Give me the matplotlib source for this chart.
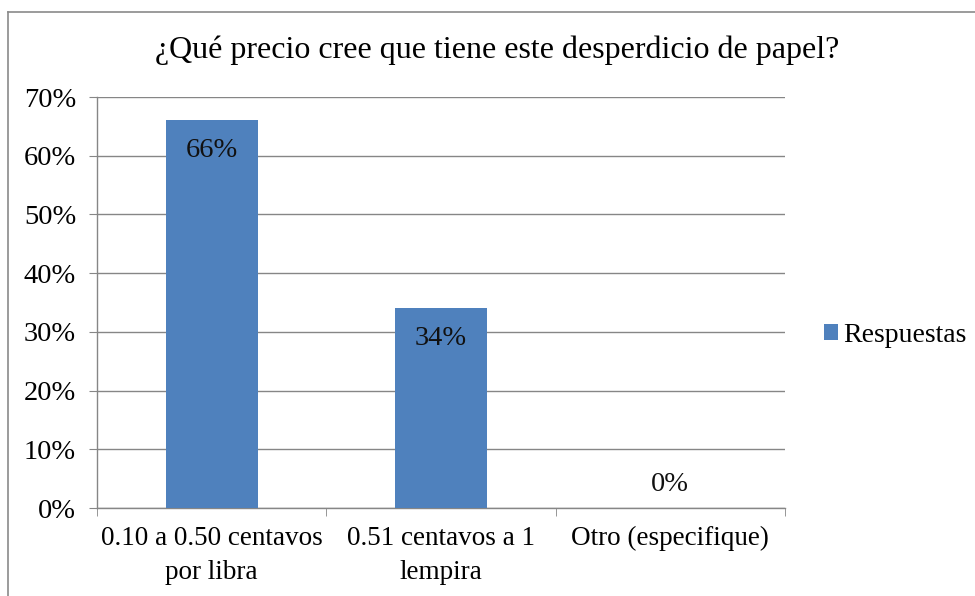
import matplotlib
matplotlib.use("Agg")
import matplotlib.pyplot as plt
from matplotlib.lines import Line2D
from matplotlib.patches import Patch

categories = ["0.10 a 0.50 centavos\npor libra", "0.51 centavos a 1\nlempira", "Otro (especifique)"]
values = [0.66, 0.34, 0.0]
value_labels = ["66%", "34%", "0%"]
yticks = [0, 0.1, 0.2, 0.3, 0.4, 0.5, 0.6, 0.7]
ytick_labels = ["0%", "10%", "20%", "30%", "40%", "50%", "60%", "70%"]
title = "¿Qué precio cree que tiene este desperdicio de papel?"
series_name = "Respuestas"

plt.rcParams['font.family'] = ['Liberation Serif', 'DejaVu Serif']
bar_color = "#4F81BD"
grid_color = "#868686"

fig = plt.figure(figsize=(9.75, 5.96), dpi=100)
ax = fig.add_axes([97/975, 1-508/596, (785-97)/975, (508-97)/596])

x = list(range(len(categories)))
ax.bar(x, values, width=0.4, color=bar_color, zorder=3)
ax.set_xlim(-0.5, len(categories) - 0.5)
ax.set_ylim(0, 0.7)
ax.set_yticks(yticks)
ax.set_yticklabels(ytick_labels, fontsize=20.5)
ax.set_xticks(x)
ax.set_xticklabels(categories, fontsize=19.5, linespacing=1.45)
ax.tick_params(axis='x', length=0, pad=13)
ax.set_xticks([i - 0.5 for i in range(len(categories) + 1)], minor=True)
ax.tick_params(axis='x', which='minor', length=6, color=grid_color, direction='out')
ax.tick_params(axis='y', length=6, color=grid_color, direction='out', pad=9)
ax.yaxis.grid(True, color=grid_color, linewidth=1, zorder=0)
for s in ['top', 'right']:
    ax.spines[s].set_visible(False)
for s in ['left', 'bottom']:
    ax.spines[s].set_color(grid_color)
    ax.spines[s].set_linewidth(1)

for xi, v, lab in zip(x, values, value_labels):
    if v > 0.05:
        ax.text(xi, v - 0.03, lab, ha='center', va='top', fontsize=20.5, color='#111111', zorder=4)
    else:
        ax.text(xi, v + 0.018, lab, ha='center', va='bottom', fontsize=20.5, color='#111111', zorder=4)

fig.text(497/975, 1-50/596, title, ha='center', va='center', fontsize=23)

leg = fig.legend(handles=[Patch(facecolor=bar_color, label=series_name)],
                 loc='center left', bbox_to_anchor=(824/975, 1-335/596),
                 frameon=False, fontsize=20, handlelength=0.5, handleheight=0.5,
                 handletextpad=0.2, borderpad=0, borderaxespad=0)

# outer chart border (left and top visible)
fig.add_artist(Line2D([8/975, 8/975], [0, 1-12/596], transform=fig.transFigure, color="#8a8a8a", lw=1.2))
fig.add_artist(Line2D([8/975, 1], [1-12/596, 1-12/596], transform=fig.transFigure, color="#8a8a8a", lw=1.2))

fig.savefig("out.png", dpi=100)
